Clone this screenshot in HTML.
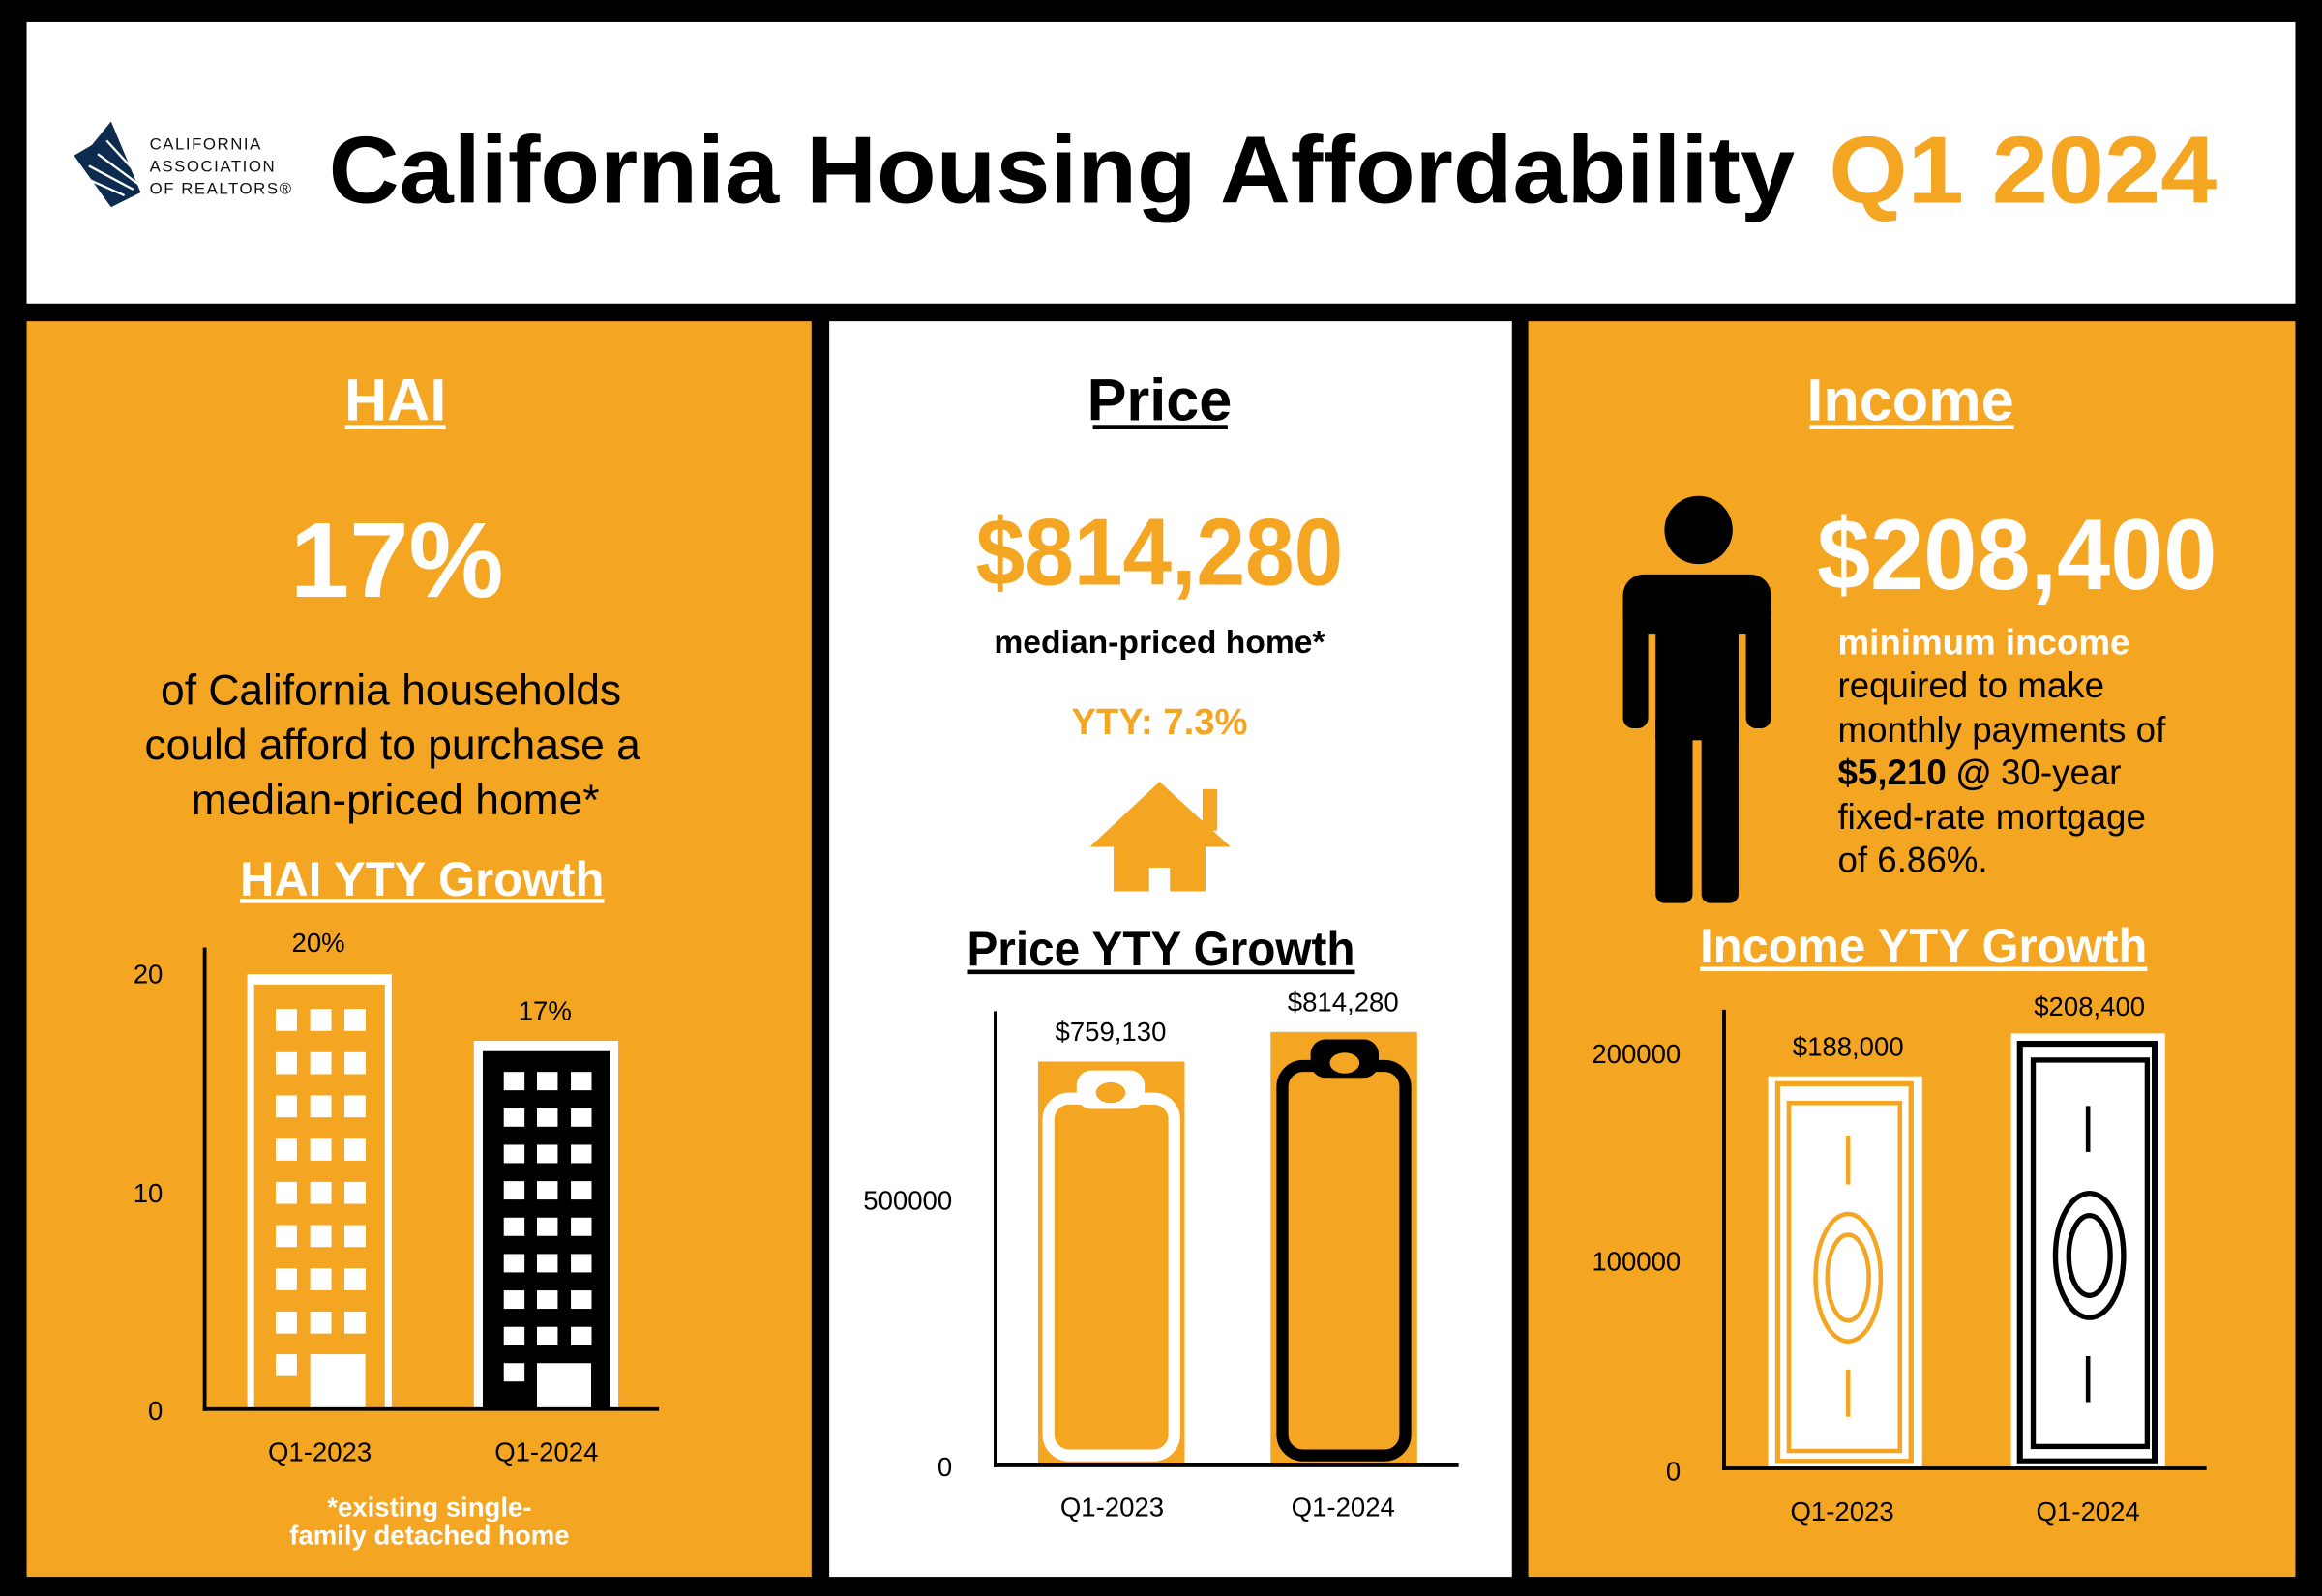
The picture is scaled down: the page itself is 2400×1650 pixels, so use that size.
<!DOCTYPE html>
<html><head><meta charset="utf-8"><style>
html,body{margin:0;padding:0;background:#000;}
svg{display:block}
text{font-family:"Liberation Sans",sans-serif;}
</style></head><body>
<svg width="2400" height="1650" viewBox="0 0 1568 1078" xmlns="http://www.w3.org/2000/svg">
<rect x="0" y="0" width="1568" height="1078" fill="#000"/>
<rect x="18" y="15" width="1532" height="190" fill="#fff"/>
<!-- logo -->
<g fill="#0d2b4e">
<polygon points="75,82 95,130 75,140 50,105 62,98"/>
</g>
<g stroke="#fff" stroke-width="1.5"><line x1="72" y1="95" x2="95" y2="120"/><line x1="66" y1="104" x2="93" y2="124"/><line x1="60" y1="112" x2="90" y2="128"/><line x1="57" y1="120" x2="84" y2="132"/></g>
<g font-family="Liberation Serif" font-size="11" fill="#111" letter-spacing="1">
<text x="101" y="101" font-family="Liberation Serif,serif">CALIFORNIA</text>
<text x="101" y="116" font-family="Liberation Serif,serif">ASSOCIATION</text>
<text x="101" y="131" font-family="Liberation Serif,serif">OF REALTORS®</text>
</g>
<text x="222" y="137" font-size="64" font-weight="bold" fill="#000" textLength="990" lengthAdjust="spacingAndGlyphs">California Housing Affordability</text>
<text x="1235" y="137" font-size="64" font-weight="bold" fill="#f4a623" textLength="262" lengthAdjust="spacingAndGlyphs">Q1 2024</text>

<!-- panels -->
<rect x="18" y="217" width="530" height="848" fill="#f4a623"/>
<rect x="560" y="217" width="461" height="848" fill="#fff"/>
<rect x="1032" y="217" width="518" height="848" fill="#f4a623"/>

<!-- LEFT -->
<text x="267" y="284" font-size="40" font-weight="bold" fill="#fff" text-anchor="middle">HAI</text>
<rect x="233" y="287" width="68" height="3" fill="#fff"/>
<text x="268" y="403" font-size="72" font-weight="bold" fill="#fff" text-anchor="middle">17%</text>
<g font-size="29" fill="#000" text-anchor="middle">
<text x="264" y="476">of California households</text>
<text x="265" y="513">could afford to purchase a</text>
<text x="267" y="550">median-priced home*</text>
</g>
<text x="285" y="605" font-size="33" font-weight="bold" fill="#fff" text-anchor="middle" textLength="246" lengthAdjust="spacingAndGlyphs">HAI YTY Growth</text>
<rect x="162" y="607" width="246" height="3" fill="#fff"/>
<g font-size="18" fill="#000">
<text x="110" y="664" text-anchor="end">20</text>
<text x="110" y="812" text-anchor="end">10</text>
<text x="110" y="959" text-anchor="end">0</text>
<text x="215" y="643" text-anchor="middle">20%</text>
<text x="368" y="689" text-anchor="middle">17%</text>
<text x="216" y="987" text-anchor="middle">Q1-2023</text>
<text x="369" y="987" text-anchor="middle">Q1-2024</text>
</g>
<!-- bar1 -->
<rect x="167" y="658" width="97.5" height="294" fill="#fff"/>
<rect x="171.6" y="665" width="88.3" height="287" fill="#f4a623"/>
<g fill="#fff">
<g id="r1"><rect x="186.2" y="681.5" width="14.3" height="14.8"/><rect x="209.5" y="681.5" width="14.3" height="14.8"/><rect x="232.6" y="681.5" width="14.3" height="14.8"/></g>
<use href="#r1" y="29.2"/><use href="#r1" y="58.4"/><use href="#r1" y="87.6"/><use href="#r1" y="116.8"/><use href="#r1" y="146"/><use href="#r1" y="175.2"/><use href="#r1" y="204.4"/>
<rect x="186.2" y="914.7" width="14.3" height="14.8"/>
<rect x="209.5" y="914.7" width="37.2" height="37.3"/>
</g>
<!-- bar2 -->
<rect x="320" y="703" width="97.5" height="249" fill="#fff"/>
<rect x="326" y="710" width="86" height="242" fill="#000"/>
<g fill="#fff">
<g id="r2"><rect x="340.2" y="724" width="14" height="12.4"/><rect x="362.6" y="724" width="14" height="12.4"/><rect x="385.5" y="724" width="14" height="12.4"/></g>
<use href="#r2" y="24.6"/><use href="#r2" y="49.2"/><use href="#r2" y="73.8"/><use href="#r2" y="98.4"/><use href="#r2" y="123"/><use href="#r2" y="147.6"/><use href="#r2" y="172.2"/>
<rect x="340.2" y="920.7" width="14" height="12.4"/>
<rect x="362.6" y="920.7" width="36.6" height="31.3"/>
</g>
<rect x="137" y="640" width="2.5" height="313" fill="#000"/>
<rect x="137" y="950.5" width="308" height="2.5" fill="#000"/>
<g font-size="18" font-weight="bold" fill="#fff" text-anchor="middle">
<text x="290" y="1024">*existing single-</text>
<text x="290" y="1043">family detached home</text>
</g>

<!-- MIDDLE -->
<text x="783" y="284" font-size="40" font-weight="bold" fill="#000" text-anchor="middle">Price</text>
<rect x="738" y="287" width="91" height="3" fill="#000"/>
<text x="783" y="395" font-size="64" font-weight="bold" fill="#f4a623" text-anchor="middle" textLength="248" lengthAdjust="spacingAndGlyphs">$814,280</text>
<text x="783" y="441" font-size="22" font-weight="bold" fill="#000" text-anchor="middle">median-priced home*</text>
<text x="783" y="496" font-size="25" font-weight="bold" fill="#f4a623" text-anchor="middle">YTY: 7.3%</text>
<g fill="#f4a623">
<polygon points="736,572 783,528 831,572"/>
<rect x="812" y="533" width="10" height="28"/>
<rect x="752" y="566" width="62" height="36"/>
</g>
<rect x="776" y="586" width="14" height="16" fill="#fff"/>
<text x="784" y="652" font-size="33" font-weight="bold" fill="#000" text-anchor="middle" textLength="262" lengthAdjust="spacingAndGlyphs">Price YTY Growth</text>
<rect x="653" y="655" width="262" height="3" fill="#000"/>
<g font-size="18" fill="#000">
<text x="643" y="817" text-anchor="end">500000</text>
<text x="643" y="997" text-anchor="end">0</text>
<text x="750" y="703" text-anchor="middle">$759,130</text>
<text x="907" y="683" text-anchor="middle">$814,280</text>
<text x="751" y="1024" text-anchor="middle">Q1-2023</text>
<text x="907" y="1024" text-anchor="middle">Q1-2024</text>
</g>
<rect x="701" y="717" width="99" height="273" fill="#f4a623"/>
<rect x="708" y="742" width="85" height="241" rx="14" fill="none" stroke="#fff" stroke-width="8"/>
<rect x="727" y="723" width="46" height="26" rx="10" fill="#fff"/>
<ellipse cx="750" cy="738" rx="10" ry="7" fill="#f4a623" stroke="#fff" stroke-width="0"/>
<rect x="858" y="697" width="99" height="293" fill="#f4a623"/>
<rect x="866" y="720" width="83" height="263" rx="14" fill="none" stroke="#000" stroke-width="8"/>
<rect x="885" y="702" width="46" height="26" rx="10" fill="#000"/>
<ellipse cx="908" cy="718" rx="10" ry="7" fill="#f4a623"/>
<rect x="671" y="683" width="2.5" height="308" fill="#000"/>
<rect x="671" y="988.5" width="314" height="2.5" fill="#000"/>

<!-- RIGHT -->
<text x="1290" y="284" font-size="40" font-weight="bold" fill="#fff" text-anchor="middle">Income</text>
<rect x="1222" y="287" width="138" height="3" fill="#fff"/>
<g fill="#000">
<circle cx="1147" cy="358" r="23"/>
<rect x="1096" y="388" width="100" height="40" rx="14"/>
<rect x="1096" y="400" width="17" height="92" rx="7"/>
<rect x="1179" y="400" width="17" height="92" rx="7"/>
<rect x="1118" y="400" width="56" height="100"/>
<rect x="1118" y="480" width="25" height="130" rx="6"/>
<rect x="1149" y="480" width="25" height="130" rx="6"/>
</g>
<text x="1362" y="398" font-size="68" font-weight="bold" fill="#fff" text-anchor="middle" textLength="270" lengthAdjust="spacingAndGlyphs">$208,400</text>
<text x="1241" y="442" font-size="24" font-weight="bold" fill="#fff">minimum income</text>
<g font-size="24" fill="#000">
<text x="1241" y="471">required to make</text>
<text x="1241" y="501">monthly payments of</text>
<text x="1241" y="530"><tspan font-weight="bold">$5,210 @</tspan> 30-year</text>
<text x="1241" y="560">fixed-rate mortgage</text>
<text x="1241" y="589">of 6.86%.</text>
</g>
<text x="1299" y="650" font-size="33" font-weight="bold" fill="#fff" text-anchor="middle" textLength="302" lengthAdjust="spacingAndGlyphs">Income YTY Growth</text>
<rect x="1148" y="653" width="302" height="3" fill="#fff"/>
<g font-size="18" fill="#000">
<text x="1135" y="718" text-anchor="end">200000</text>
<text x="1135" y="858" text-anchor="end">100000</text>
<text x="1135" y="1000" text-anchor="end">0</text>
<text x="1248" y="713" text-anchor="middle">$188,000</text>
<text x="1411" y="686" text-anchor="middle">$208,400</text>
<text x="1244" y="1027" text-anchor="middle">Q1-2023</text>
<text x="1410" y="1027" text-anchor="middle">Q1-2024</text>
</g>
<!-- bill 1 -->
<rect x="1194" y="727" width="104" height="265" fill="#fff"/>
<rect x="1200.5" y="732" width="90" height="255" fill="none" stroke="#f4a623" stroke-width="3.5"/>
<rect x="1208" y="745" width="75" height="235" fill="none" stroke="#f4a623" stroke-width="3"/>
<line x1="1248" y1="767" x2="1248" y2="800" stroke="#f4a623" stroke-width="3"/>
<line x1="1248" y1="925" x2="1248" y2="957" stroke="#f4a623" stroke-width="3"/>
<ellipse cx="1248" cy="863" rx="22" ry="43" fill="none" stroke="#f4a623" stroke-width="3"/>
<ellipse cx="1248" cy="863" rx="14" ry="29" fill="none" stroke="#f4a623" stroke-width="3"/>
<!-- bill 2 -->
<rect x="1358" y="698" width="104" height="294" fill="#fff"/>
<rect x="1364" y="705" width="91" height="282" fill="none" stroke="#000" stroke-width="4"/>
<rect x="1373" y="716" width="77" height="261" fill="none" stroke="#000" stroke-width="3.5"/>
<line x1="1410" y1="747" x2="1410" y2="778" stroke="#000" stroke-width="3"/>
<line x1="1410" y1="916" x2="1410" y2="947" stroke="#000" stroke-width="3"/>
<ellipse cx="1411" cy="848" rx="23" ry="42" fill="none" stroke="#000" stroke-width="3.5"/>
<ellipse cx="1411" cy="848" rx="14" ry="27" fill="none" stroke="#000" stroke-width="3.5"/>
<rect x="1163" y="682" width="2.5" height="311" fill="#000"/>
<rect x="1163" y="990.5" width="327" height="2.5" fill="#000"/>
</svg>
</body></html>
